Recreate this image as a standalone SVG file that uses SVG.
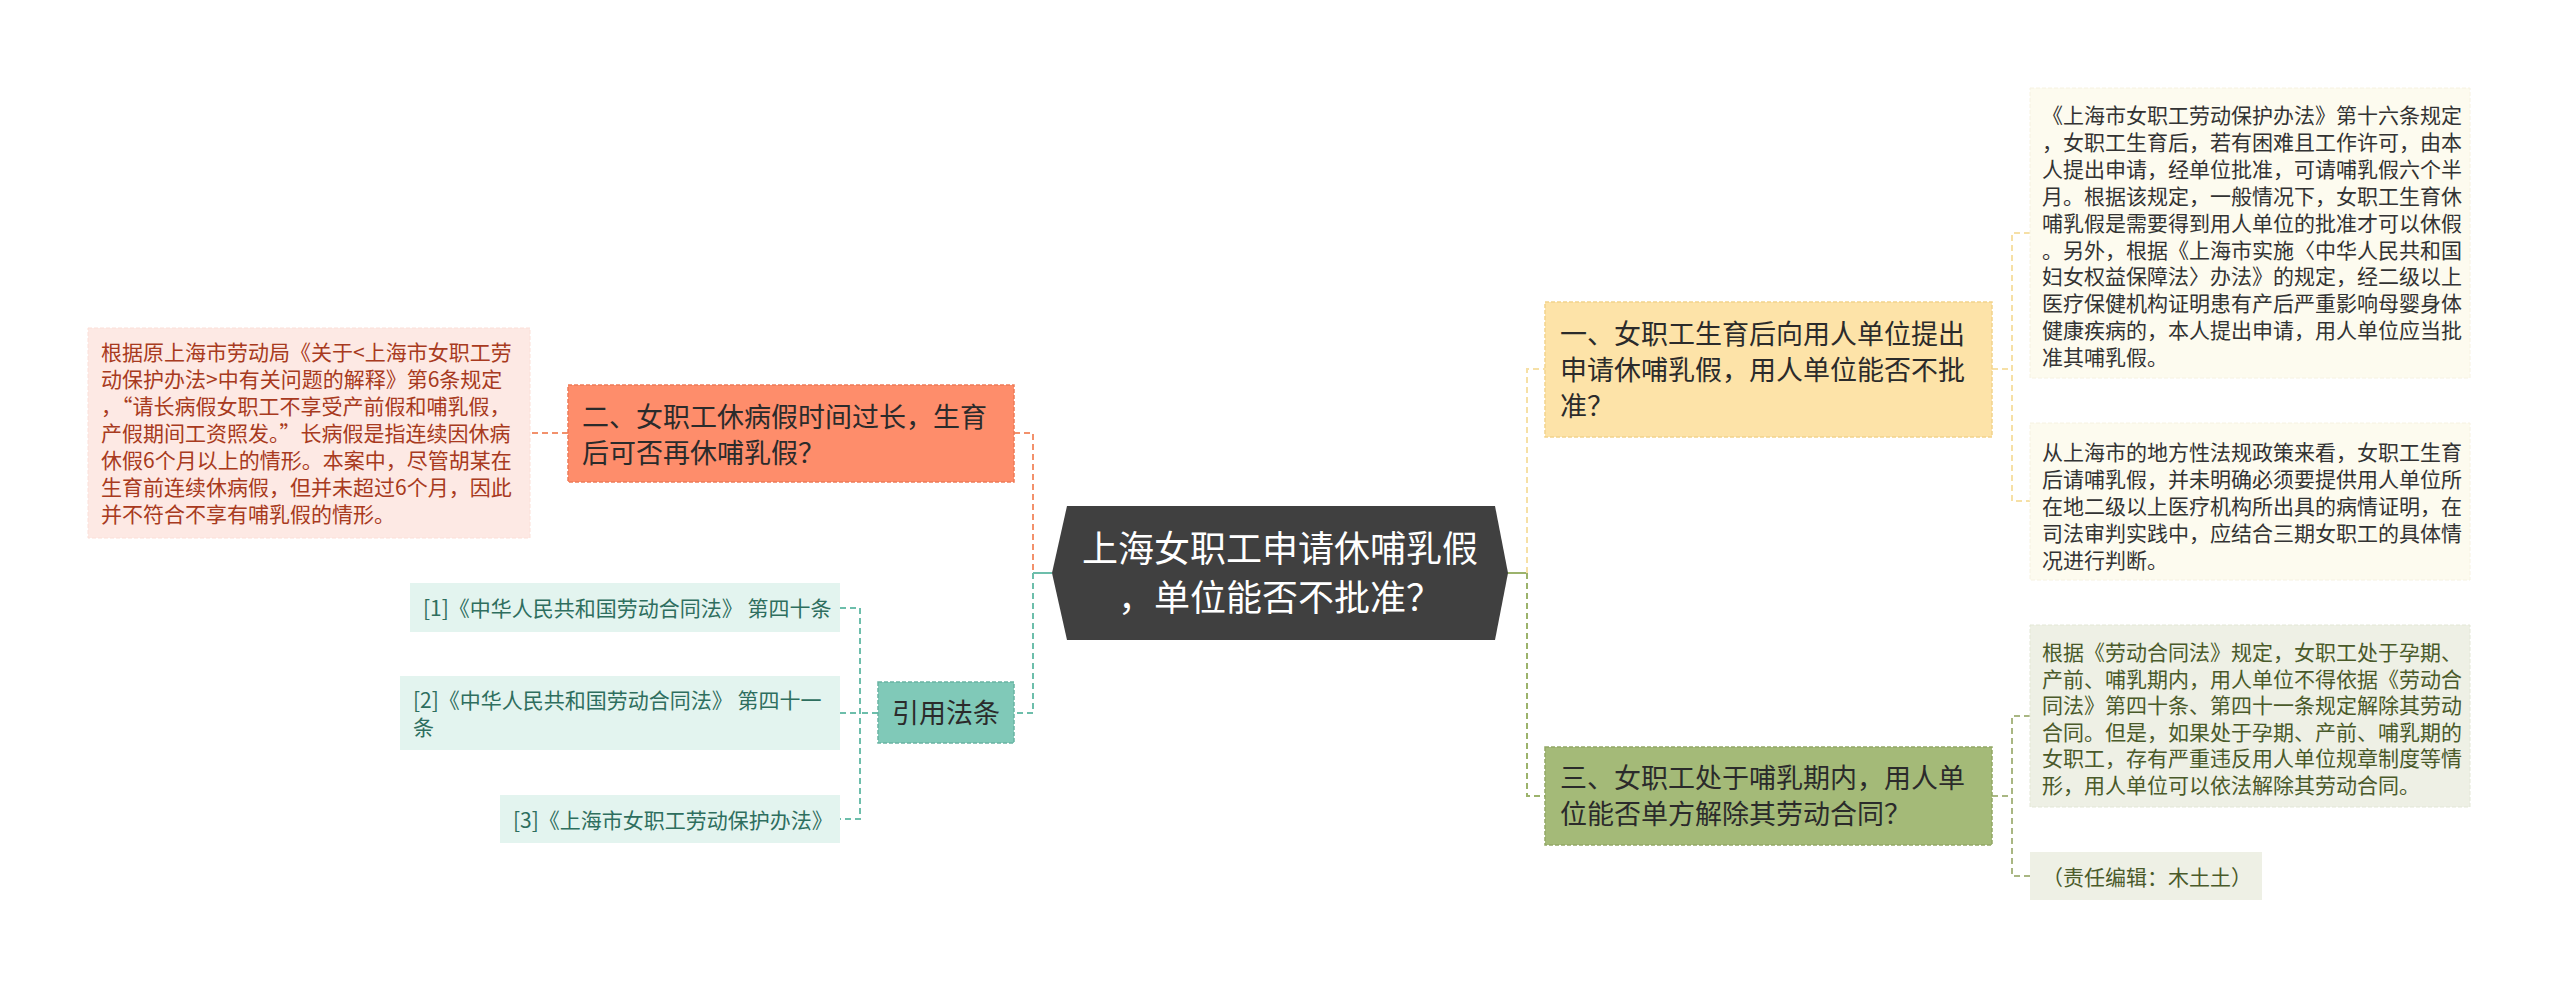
<svg xmlns="http://www.w3.org/2000/svg" width="2560" height="990" viewBox="0 0 2560 990">
<style>
text { font-family: "Noto Sans CJK SC", "Noto Sans", sans-serif; }
.c { fill: none; stroke-width: 2; stroke-dasharray: 6 4; }
.solid { fill: none; stroke-width: 2; }
.nt { font-size: 27px; fill: #2b2b2b; }
.dt { font-size: 21px; }
.bd { stroke-width: 1.5; stroke-dasharray: 4 2; }
.bl { stroke-width: 1; stroke-dasharray: 4 2; }
</style>
<rect x="0" y="0" width="2560" height="990" fill="#ffffff"/>
<g id="connectors">
  <path class="c" stroke="#f2916c" d="M568,433 H530"/>
  <path class="c" stroke="#f2916c" d="M1014,433 H1033 V573"/>
  <path class="solid" stroke="#6dbeab" d="M1052,573 H1033"/>
  <path class="c" stroke="#6dbeab" d="M1033,573 V713 H1014"/>
  <path class="c" stroke="#6dbeab" d="M878,713 H860"/>
  <path class="c" stroke="#6dbeab" d="M840,608 H860 V819 H840 M840,713 H860"/>
  <path class="solid" stroke="#9cb36c" d="M1507,573 H1527"/>
  <path class="c" stroke="#f6e0a6" d="M1527,573 V369 H1545"/>
  <path class="c" stroke="#9cb36c" d="M1527,573 V796 H1545"/>
  <path class="c" stroke="#f6e0a6" d="M1992,369 H2012 M2030,233 H2012 V501 H2030"/>
  <path class="c" stroke="#a9b783" d="M1992,796 H2012 M2030,716 H2012 V876 H2030"/>
</g>
<g id="root">
  <polygon points="1052,573 1067,506 1495,506 1508,573 1495,640 1067,640" fill="#404040"/>
  <text x="1280" y="562" font-size="36" fill="#ffffff" text-anchor="middle">上海女职工申请休哺乳假</text>
  <text x="1280" y="611" font-size="36" fill="#ffffff" text-anchor="middle">，单位能否不批准？</text>
</g>
<g id="node-er">
  <rect class="bd" x="568" y="385" width="446" height="97" fill="#fe8d6b" stroke="#ee7b58"/>
  <text class="nt" x="582" y="427">二、女职工休病假时间过长，生育</text>
  <text class="nt" x="582" y="463">后可否再休哺乳假？</text>
</g>
<g id="detail-er">
  <rect class="bl" x="88" y="328" width="442" height="210" fill="#fde9e4" stroke="#fbdfd8"/>
  <g class="dt" fill="#a83a20">
    <text x="101" y="360">根据原上海市劳动局《关于&lt;上海市女职工劳</text>
    <text x="101" y="387">动保护办法&gt;中有关问题的解释》第6条规定</text>
    <text x="101" y="414">，“请长病假女职工不享受产前假和哺乳假，</text>
    <text x="101" y="441">产假期间工资照发。”长病假是指连续因休病</text>
    <text x="101" y="468">休假6个月以上的情形。本案中，尽管胡某在</text>
    <text x="101" y="495">生育前连续休病假，但并未超过6个月，因此</text>
    <text x="101" y="522">并不符合不享有哺乳假的情形。</text>
  </g>
</g>
<g id="node-cite">
  <rect class="bd" x="878" y="682" width="136" height="61" fill="#80c9b8" stroke="#68b4a2"/>
  <text class="nt" x="946" y="723" text-anchor="middle">引用法条</text>
</g>
<g id="cite-1">
  <rect x="410" y="583" width="430" height="49" fill="#e3f4ef"/>
  <text class="dt" x="423" y="616" fill="#2e6e5e">[1]《中华人民共和国劳动合同法》 第四十条</text>
</g>
<g id="cite-2">
  <rect x="400" y="676" width="440" height="74" fill="#e3f4ef"/>
  <text class="dt" x="413" y="708" fill="#2e6e5e">[2]《中华人民共和国劳动合同法》 第四十一</text>
  <text class="dt" x="413" y="735" fill="#2e6e5e">条</text>
</g>
<g id="cite-3">
  <rect x="500" y="795" width="340" height="48" fill="#e3f4ef"/>
  <text class="dt" x="513" y="828" fill="#2e6e5e">[3]《上海市女职工劳动保护办法》</text>
</g>
<g id="node-yi">
  <rect class="bd" x="1545" y="302" width="447" height="135" fill="#fde3a8" stroke="#f2d38c"/>
  <text class="nt" x="1560" y="344">一、女职工生育后向用人单位提出</text>
  <text class="nt" x="1560" y="380">申请休哺乳假，用人单位能否不批</text>
  <text class="nt" x="1560" y="416">准？</text>
</g>
<g id="detail-yi-1">
  <rect class="bl" x="2030" y="88" width="440" height="290" fill="#fdfbef" stroke="#f6f2e2"/>
  <g class="dt" fill="#333333">
    <text x="2042" y="123">《上海市女职工劳动保护办法》第十六条规定</text>
    <text x="2042" y="150">，女职工生育后，若有困难且工作许可，由本</text>
    <text x="2042" y="177">人提出申请，经单位批准，可请哺乳假六个半</text>
    <text x="2042" y="204">月。根据该规定，一般情况下，女职工生育休</text>
    <text x="2042" y="231">哺乳假是需要得到用人单位的批准才可以休假</text>
    <text x="2042" y="258">。另外，根据《上海市实施〈中华人民共和国</text>
    <text x="2042" y="284">妇女权益保障法〉办法》的规定，经二级以上</text>
    <text x="2042" y="311">医疗保健机构证明患有产后严重影响母婴身体</text>
    <text x="2042" y="338">健康疾病的，本人提出申请，用人单位应当批</text>
    <text x="2042" y="365">准其哺乳假。</text>
  </g>
</g>
<g id="detail-yi-2">
  <rect class="bl" x="2030" y="423" width="440" height="157" fill="#fdfbef" stroke="#f6f2e2"/>
  <g class="dt" fill="#333333">
    <text x="2042" y="460">从上海市的地方性法规政策来看，女职工生育</text>
    <text x="2042" y="487">后请哺乳假，并未明确必须要提供用人单位所</text>
    <text x="2042" y="514">在地二级以上医疗机构所出具的病情证明，在</text>
    <text x="2042" y="541">司法审判实践中，应结合三期女职工的具体情</text>
    <text x="2042" y="568">况进行判断。</text>
  </g>
</g>
<g id="node-san">
  <rect class="bd" x="1545" y="747" width="447" height="98" fill="#a4ba78" stroke="#92a866"/>
  <text class="nt" x="1560" y="788">三、女职工处于哺乳期内，用人单</text>
  <text class="nt" x="1560" y="824">位能否单方解除其劳动合同？</text>
</g>
<g id="detail-san-1">
  <rect class="bl" x="2030" y="625" width="440" height="182" fill="#eef0e5" stroke="#e3e7d6"/>
  <g class="dt" fill="#4a5a2a">
    <text x="2042" y="660">根据《劳动合同法》规定，女职工处于孕期、</text>
    <text x="2042" y="687">产前、哺乳期内，用人单位不得依据《劳动合</text>
    <text x="2042" y="713">同法》第四十条、第四十一条规定解除其劳动</text>
    <text x="2042" y="740">合同。但是，如果处于孕期、产前、哺乳期的</text>
    <text x="2042" y="766">女职工，存有严重违反用人单位规章制度等情</text>
    <text x="2042" y="793">形，用人单位可以依法解除其劳动合同。</text>
  </g>
</g>
<g id="detail-san-2">
  <rect x="2030" y="852" width="232" height="48" fill="#eef0e5"/>
  <text class="dt" x="2042" y="885" fill="#4a5a2a">（责任编辑：木土土）</text>
</g>
</svg>
